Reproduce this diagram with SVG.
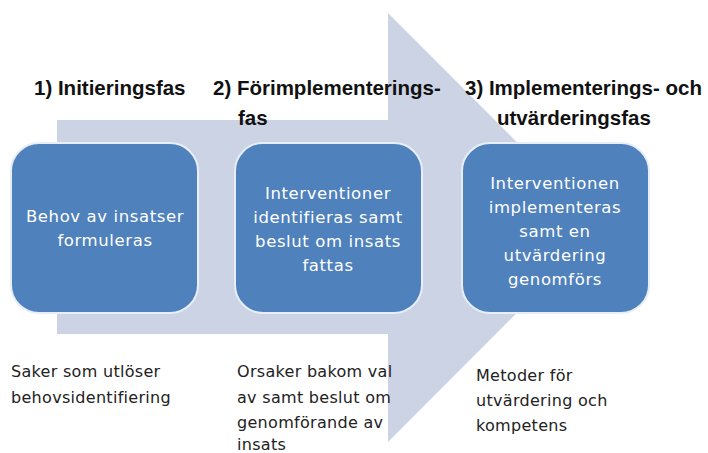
<svg xmlns="http://www.w3.org/2000/svg" width="708" height="453" viewBox="0 0 708 453">
<style>
.title{font-family:"Liberation Sans","Noto Sans",sans-serif;font-weight:bold;font-size:20.5px;fill:#111}
.box{fill:#4f81bd;stroke:#e8eef7;stroke-width:2}
.bt{font-family:"DejaVu Sans","Liberation Sans",sans-serif;font-size:16.5px;letter-spacing:0.6px;fill:#fff;text-anchor:middle}
.note{font-family:"DejaVu Sans","Liberation Sans",sans-serif;font-size:16px;letter-spacing:0.3px;fill:#222}
</style>
<rect width="708" height="453" fill="#fff"/>
<g id="arrow">
<path d="M57,120 H388 V13 L602,227.5 L388,442 V334 H57 Z" fill="#ccd3e5"/>
</g>
<g id="connectors"></g>
<g id="phase1">
<text class="title" x="34" y="95">1) Initieringsfas</text>
<rect class="box" x="11" y="143" width="187" height="170" rx="28"/>
<text class="bt" x="105" y="222">Behov av insatser</text>
<text class="bt" x="105" y="246">formuleras</text>
<text class="note" x="11" y="377">Saker som utlöser</text>
<text class="note" x="11" y="403">behovsidentifiering</text>
</g>
<g id="phase2">
<text class="title" x="213" y="95">2) Förimplementerings-</text>
<text class="title" x="238" y="125">fas</text>
<rect class="box" x="235" y="143" width="187" height="170" rx="28"/>
<text class="bt" x="328" y="199">Interventioner</text>
<text class="bt" x="328" y="223">identifieras samt</text>
<text class="bt" x="328" y="247">beslut om insats</text>
<text class="bt" x="328" y="271">fattas</text>
<text class="note" x="237" y="377">Orsaker bakom val</text>
<text class="note" x="237" y="403">av samt beslut om</text>
<text class="note" x="237" y="428">genomförande av</text>
<text class="note" x="237" y="450">insats</text>
</g>
<g id="phase3">
<text class="title" x="465" y="95">3) Implementerings- och</text>
<text class="title" x="497" y="125">utvärderingsfas</text>
<rect class="box" x="462" y="143" width="187" height="170" rx="28"/>
<text class="bt" x="555" y="189">Interventionen</text>
<text class="bt" x="555" y="213">implementeras</text>
<text class="bt" x="555" y="237">samt en</text>
<text class="bt" x="555" y="261">utvärdering</text>
<text class="bt" x="555" y="285">genomförs</text>
<text class="note" x="476" y="381">Metoder för</text>
<text class="note" x="476" y="406">utvärdering och</text>
<text class="note" x="476" y="431">kompetens</text>
</g>
</svg>
